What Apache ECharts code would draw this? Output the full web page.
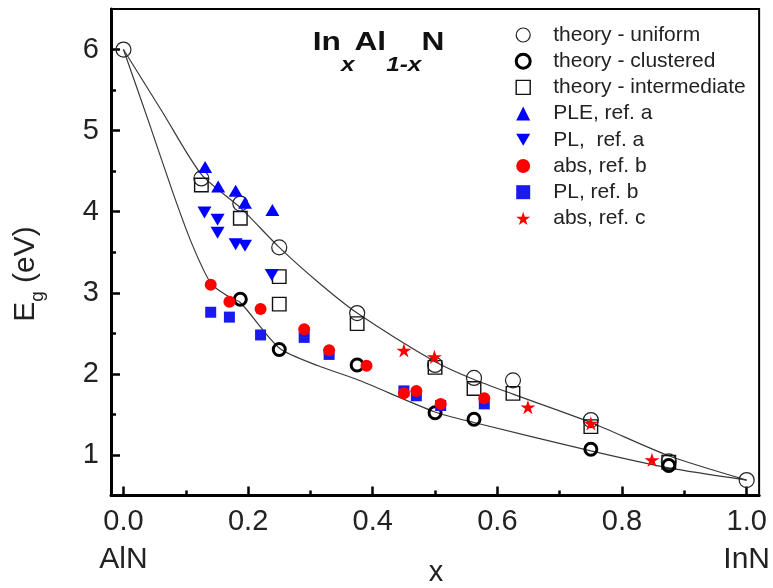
<!DOCTYPE html>
<html>
<head>
<meta charset="utf-8">
<script src="https://cdn.jsdelivr.net/npm/echarts@6/dist/echarts.min.js"></script>
<style>
html,body{margin:0;padding:0;background:#fff;}
#chart{width:773px;height:588px;}
</style>
</head>
<body>
<div id="chart"></div>
<script>
// ---- data (x = In fraction, Eg in eV) ----
const theoryUniform = [[0,6.00],[0.125,4.41],[0.1875,4.10],[0.25,3.56],[0.375,2.75],[0.5,2.11],[0.5625,1.95],[0.625,1.92],[0.75,1.43],[0.875,0.92],[1.0,0.69]];
const theoryClustered = [[0.1875,2.92],[0.25,2.30],[0.375,2.11],[0.5,1.52],[0.5625,1.44],[0.75,1.07],[0.875,0.87]];
const theoryIntermediate = [[0.125,4.33],[0.1875,3.92],[0.25,3.20],[0.25,2.86],[0.375,2.62],[0.5,2.08],[0.5625,1.82],[0.625,1.76],[0.75,1.35],[0.875,0.91]];
const pleRefA = [[0.131,4.55],[0.152,4.31],[0.180,4.26],[0.195,4.11],[0.239,4.02]];
const plRefA = [[0.130,3.99],[0.151,3.90],[0.151,3.74],[0.180,3.60],[0.195,3.58],[0.238,3.22]];
const absRefB = [[0.140,3.10],[0.170,2.89],[0.220,2.80],[0.290,2.55],[0.330,2.29],[0.390,2.10],[0.450,1.76],[0.470,1.79],[0.509,1.63],[0.579,1.70]];
const plRefB = [[0.140,2.76],[0.170,2.70],[0.220,2.48],[0.290,2.45],[0.330,2.24],[0.450,1.79],[0.470,1.73],[0.509,1.61],[0.579,1.63]];
const absRefC = [[0.450,2.29],[0.499,2.21],[0.649,1.59],[0.750,1.39],[0.848,0.94]];
const upperCurve = [[0,6.00],[0.0625,5.23],[0.125,4.46],[0.1875,4.05],[0.25,3.56],[0.3125,3.13],[0.375,2.75],[0.5,2.15],[0.5625,1.93],[0.625,1.75],[0.75,1.40],[0.875,0.99],[1.0,0.69]];
const lowerCurve = [[0,6.00],[0.04,5.12],[0.08,4.22],[0.11,3.60],[0.14,3.12],[0.165,2.97],[0.1875,2.88],[0.25,2.32],[0.3125,2.10],[0.375,1.93],[0.5,1.53],[0.5625,1.40],[0.75,1.05],[0.875,0.84],[1.0,0.69]];
const seriesNames = ['theory - uniform','theory - clustered','theory - intermediate','PLE, ref. a','PL,  ref. a','abs, ref. b','PL, ref. b','abs, ref. c'];
const xMajor = [0,0.2,0.4,0.6,0.8,1.0];
const xMinor = [0.1,0.3,0.5,0.7,0.9];
const yMajor = [1,2,3,4,5,6];
const yMinor = [1.5,2.5,3.5,4.5,5.5];
const endValues = [0,1];
const endNames = ['AlN','InN'];

const FONT = "'Liberation Sans', Arial, Helvetica, sans-serif";
const STAR = 'path://M50,0L61.2,34.6L97.6,34.5L68.1,55.9L79.4,90.5L50,69L20.6,90.5L31.9,55.9L2.4,34.5L38.8,34.6Z';
const DOWN_TRI = 'path://M0,0L14,0L7,12Z';
const BLUE = '#0000ff';
const BLUE2 = '#1a1aee';
const RED = '#ff0000';

const chart = echarts.init(document.getElementById('chart'), null, {renderer:'canvas'});

const axisBaseX = {type:'value', min:-0.02, max:1.02, position:'bottom', splitLine:{show:false}};
const axisBaseY = {type:'value', min:0.5, max:6.5, position:'left', splitLine:{show:false}};

const option = {
  animation:false,
  backgroundColor:'#fff',
  grid:{left:111, right:11, top:9, bottom:92.5, show:true, borderColor:'#000', borderWidth:2, backgroundColor:'transparent'},
  xAxis:[
    Object.assign({}, axisBaseX, {
      axisLine:{show:true, onZero:false, lineStyle:{color:'#000', width:3}},
      axisTick:{show:true, inside:true, length:5, customValues:xMinor, lineStyle:{color:'#000', width:2.5}},
      axisLabel:{show:false}
    }),
    Object.assign({}, axisBaseX, {
      axisLine:{show:false, onZero:false},
      axisTick:{show:true, inside:true, length:9, customValues:xMajor, lineStyle:{color:'#000', width:2.5}},
      axisLabel:{show:true, customValues:xMajor, margin:12, fontSize:29, fontFamily:FONT, color:'#222',
        formatter:(v)=>Number(v).toFixed(1)}
    }),
    Object.assign({}, axisBaseX, {
      axisLine:{show:false, onZero:false},
      axisTick:{show:false},
      axisLabel:{show:true, customValues:endValues, margin:49, fontSize:30, fontFamily:FONT, color:'#222',
        formatter:(v)=>endNames[endValues.indexOf(Number(v))]}
    })
  ],
  yAxis:[
    Object.assign({}, axisBaseY, {
      axisLine:{show:true, onZero:false, lineStyle:{color:'#000', width:3}},
      axisTick:{show:true, inside:true, length:5, customValues:yMinor, lineStyle:{color:'#000', width:2.5}},
      axisLabel:{show:false}
    }),
    Object.assign({}, axisBaseY, {
      axisLine:{show:false, onZero:false},
      axisTick:{show:true, inside:true, length:9, customValues:yMajor, lineStyle:{color:'#000', width:2.5}},
      axisLabel:{show:true, customValues:yMajor, margin:12, fontSize:29, fontFamily:FONT, color:'#222'}
    })
  ],
  legend:{
    orient:'vertical', left:514.7, top:24.5, padding:0,
    itemWidth:14, itemHeight:14, itemGap:5.2,
    textStyle:{fontSize:21, lineHeight:21, fontFamily:FONT, color:'#222', padding:[0,0,0,18]},
    data:[
      {name:seriesNames[0], itemStyle:{borderWidth:1.2}},
      {name:seriesNames[1], itemStyle:{borderWidth:3}},
      {name:seriesNames[2], itemStyle:{borderWidth:1.4}},
      {name:seriesNames[3], itemStyle:{borderWidth:0}},
      {name:seriesNames[4], icon:DOWN_TRI, itemStyle:{borderWidth:0}},
      {name:seriesNames[5], itemStyle:{borderWidth:0}},
      {name:seriesNames[6], itemStyle:{borderWidth:0}},
      {name:seriesNames[7], itemStyle:{borderWidth:0}}
    ]
  },
  graphic:[
    {
      type:'text', x:312.7, y:29.9, scaleX:1.22, silent:true,
      style:{
        text:'{m|In}{s|x}{m|Al}{s|1-x}{m|N}',
        align:'left', verticalAlign:'top',
        rich:{
          m:{fontSize:26, lineHeight:26, fontWeight:'bold', fontFamily:FONT, fill:'#111', verticalAlign:'top'},
          s:{fontSize:20, lineHeight:20, fontWeight:'bold', fontStyle:'italic', fontFamily:FONT, fill:'#111', verticalAlign:'top', padding:[26,0,0,0]}
        }
      }
    },
    {
      type:'text', x:11, y:274, rotation:Math.PI/2, silent:true,
      style:{
        text:'{m|E}{s|g}{m| (eV)}',
        align:'center', verticalAlign:'top',
        rich:{
          m:{fontSize:30, lineHeight:30, fontFamily:FONT, fill:'#222', verticalAlign:'top'},
          s:{fontSize:19, lineHeight:19, fontFamily:FONT, fill:'#222', verticalAlign:'top', padding:[17,0,0,0]}
        }
      }
    },
    {
      type:'text', x:436, y:573, silent:true,
      style:{text:'x', fontSize:29, fontFamily:FONT, fill:'#222', align:'center', verticalAlign:'middle'}
    }
  ],
  series:[
    {type:'line', name:'upper', data:upperCurve, smooth:0.25, showSymbol:false, symbol:'none',
      lineStyle:{color:'#3a3a3a', width:1.2}, silent:true, z:1},
    {type:'line', name:'lower', data:lowerCurve, smooth:0.25, showSymbol:false, symbol:'none',
      lineStyle:{color:'#3a3a3a', width:1.2}, silent:true, z:1},
    {type:'scatter', name:seriesNames[2], data:theoryIntermediate, symbol:'rect', symbolSize:13.5,
      itemStyle:{color:'rgba(0,0,0,0)', borderColor:'#111', borderWidth:1.4, opacity:1}, z:2},
    {type:'scatter', name:seriesNames[0], data:theoryUniform, symbol:'circle', symbolSize:15,
      itemStyle:{color:'rgba(0,0,0,0)', borderColor:'#222', borderWidth:1.2, opacity:1}, z:2},
    {type:'scatter', name:seriesNames[1], data:theoryClustered, symbol:'circle', symbolSize:12,
      itemStyle:{color:'rgba(0,0,0,0)', borderColor:'#000', borderWidth:3, opacity:1}, z:2},
    {type:'scatter', name:seriesNames[6], data:plRefB, symbol:'rect', symbolSize:11,
      itemStyle:{color:BLUE2, opacity:1}, z:3},
    {type:'scatter', name:seriesNames[5], data:absRefB, symbol:'circle', symbolSize:12,
      itemStyle:{color:RED, opacity:1}, z:3},
    {type:'scatter', name:seriesNames[3], data:pleRefA, symbol:'triangle', symbolSize:[14,12],
      itemStyle:{color:BLUE, opacity:1}, z:3},
    {type:'scatter', name:seriesNames[4], data:plRefA, symbol:DOWN_TRI, symbolSize:[14,12],
      itemStyle:{color:BLUE, opacity:1}, z:3},
    {type:'scatter', name:seriesNames[7], data:absRefC, symbol:STAR, symbolKeepAspect:true, symbolSize:15,
      itemStyle:{color:RED, opacity:1}, z:3}
  ]
};
chart.setOption(option);
</script>
</body>
</html>
